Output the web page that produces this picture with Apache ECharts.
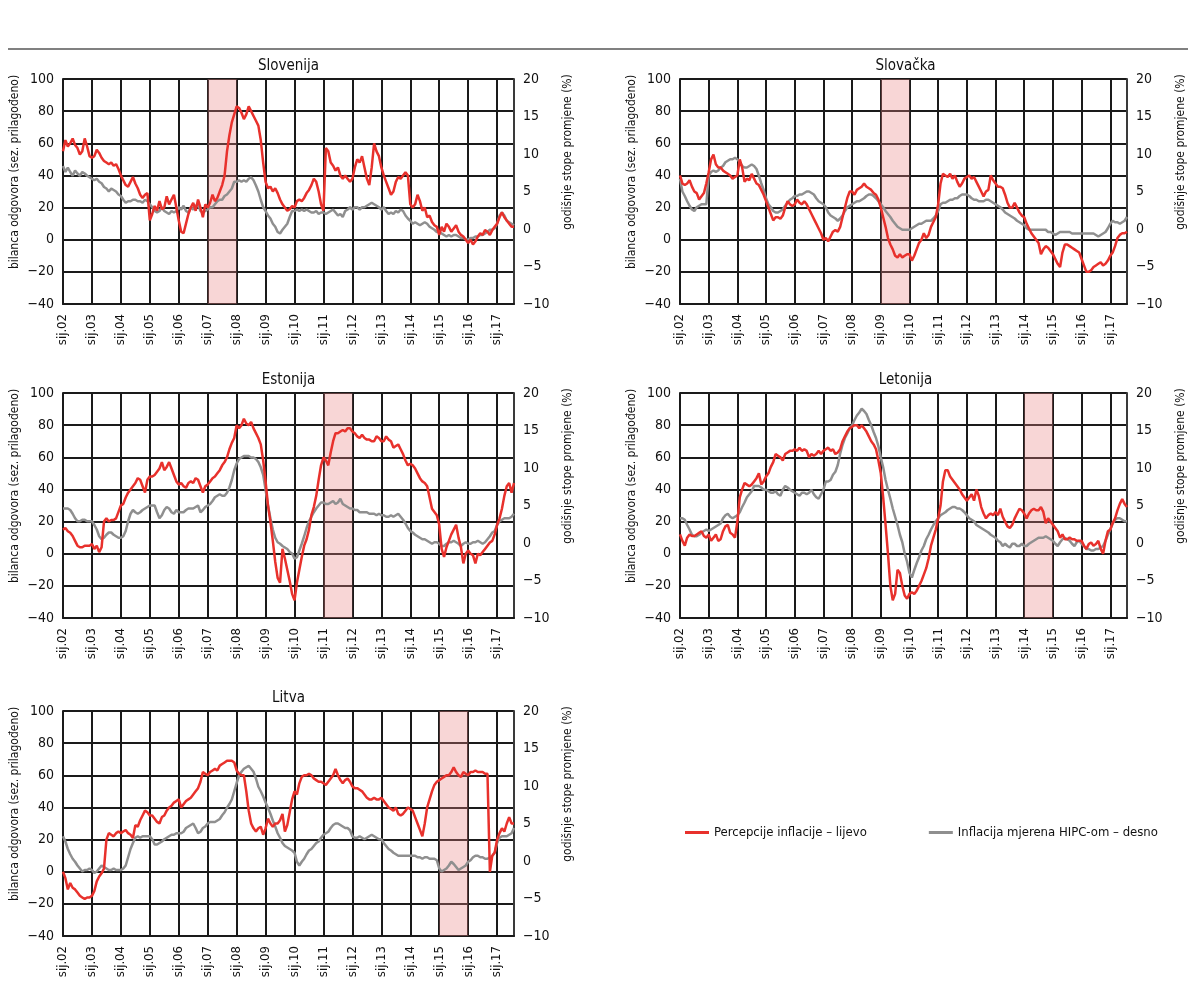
<!DOCTYPE html>
<html>
<head>
<meta charset="utf-8">
<title>Percepcije inflacije i HIPC</title>
<script src="https://cdn.jsdelivr.net/npm/echarts@6/dist/echarts.min.js"></script>
<style>
  html, body { margin: 0; padding: 0; background: #fff; }
  #chart { width: 1188px; height: 1003px; }
</style>
</head>
<body>
<div id="chart"></div>
<script>
// mjeseci i godine (sij.02 ... kol.17)
const monthNames = ["sij", "velj", "ožu", "tra", "svi", "lip", "srp", "kol", "ruj", "lis", "stu", "pro"];
const yearLabels = ["02", "03", "04", "05", "06", "07", "08", "09", "10", "11", "12", "13", "14", "15", "16", "17"];

const leftTicks = { min: -40, max: 100, step: 20 };
const rightTicks = { min: -10, max: 20, step: 5 };

const perceptionName = "Percepcije inflacije – lijevo";
const hicpName = "Inflacija mjerena HIPC-om – desno";

// Slovenija
const siPerception = [
  55, 62, 58, 60, 63, 59, 57, 53, 55, 63, 58, 52,
  51, 52, 56, 54, 51, 49, 48, 47, 48, 46, 47, 44,
  40, 37, 34, 33, 36, 39, 35, 32, 28, 26, 28, 29,
  12, 16, 21, 18, 24, 19, 20, 27, 22, 25, 28, 20,
  12, 5, 4, 10, 16, 20, 23, 18, 25, 20, 14, 22,
  20, 23, 28, 24, 26, 30, 34, 40, 55, 65, 73, 78,
  83, 82, 79, 75, 78, 83, 80, 77, 74, 71, 62, 48,
  36, 32, 33, 30, 32, 29, 25, 22, 20, 18, 19, 21,
  20, 24, 25, 24, 26, 29, 31, 34, 38, 36, 30, 22,
  18, 57, 55, 48, 46, 43, 45, 40, 38, 40, 38, 36,
  38, 45, 50, 48, 52, 45, 38, 34, 45, 60, 55, 52,
  45, 40, 36, 32, 28, 30, 36, 39, 38, 40, 42, 40,
  22, 20, 22, 28, 24, 18, 20, 14, 15, 11, 9, 8,
  3, 8, 5, 10, 8, 5, 7, 9, 5, 3, 2, 0,
  -2, 0, -3, -1, 2, 4, 3, 6, 5, 3, 6, 8,
  10, 14, 17, 14, 12, 10, 8, 8,
];
const siHicp = [
  8.4, 7.6, 8.2, 7.6, 7.1, 7.8, 7.4, 7.1, 7.6, 7.4, 7.1, 6.9,
  6.7, 6.5, 6.7, 6.3, 6.1, 5.6, 5.4, 5.0, 5.4, 5.2, 5.0, 4.6,
  4.4, 3.9, 3.5, 3.7, 3.7, 3.9, 3.9, 3.7, 3.7, 3.5, 3.9, 3.7,
  3.3, 2.9, 2.4, 2.2, 2.4, 2.9, 2.4, 2.2, 2.0, 2.4, 2.2, 2.4,
  2.9, 2.6, 3.1, 2.4, 2.2, 2.9, 2.6, 3.1, 3.3, 2.4, 2.2, 2.4,
  2.6, 2.9, 2.9, 3.3, 3.7, 3.9, 3.9, 4.4, 4.6, 5.0, 5.4, 6.3,
  6.3, 6.5, 6.3, 6.5, 6.3, 6.7, 6.9, 6.5, 5.8, 5.0, 3.9, 2.9,
  2.4, 1.8, 1.4, 0.7, 0.3, -0.4, -0.6, -0.1, 0.3, 0.7, 1.6, 2.4,
  2.4, 2.6, 2.4, 2.6, 2.4, 2.6, 2.4, 2.2, 2.2, 2.4, 2.0, 2.2,
  2.2, 2.0, 2.2, 2.4, 2.6, 2.2, 1.8, 2.0, 1.6, 2.4, 2.6, 2.9,
  2.6, 2.9, 2.9, 2.6, 2.9, 2.9, 3.1, 3.3, 3.5, 3.3, 3.1, 2.9,
  2.6, 2.9, 2.4, 2.0, 2.2, 2.0, 2.4, 2.2, 2.6, 2.4, 1.8, 1.4,
  1.1, 0.7, 0.9, 0.7, 0.5, 0.7, 0.9, 0.7, 0.3, 0.1, -0.1, -0.4,
  -0.4, -0.6, -0.8, -1.0, -0.8, -1.0, -0.8, -0.8, -1.0, -1.2, -1.2, -1.4,
  -1.4, -1.2, -1.2, -1.0, -1.0, -0.8, -0.8, -0.6, -0.4, -0.1, -0.1, 0.1,
  0.7, 1.8, 2.2, 1.8, 1.1, 0.9, 0.7, 0.5,
];

// Slovačka
const skPerception = [
  40, 35, 34, 35, 37, 33, 30, 29, 25, 27, 29, 35,
  42, 50, 53, 47, 45, 45, 43, 42, 41, 40, 38, 39,
  40, 50, 45, 36, 38, 37, 41, 38, 35, 34, 31, 28,
  24, 20, 16, 12, 14, 14, 13, 15, 20, 24, 22, 21,
  22, 25, 23, 22, 24, 22, 19, 16, 13, 10, 7, 4,
  0, 1, -1, 2, 5, 6, 5, 8, 14, 20, 26, 30,
  30, 28, 31, 32, 33, 35, 33, 32, 31, 29, 28, 25,
  20, 14, 8, 1, -3, -6, -10, -11, -9, -11, -10, -9,
  -9, -13, -10, -6, -2, 0, 4, 1, 3, 8, 11, 14,
  22, 35, 41, 40, 39, 41, 38, 40, 36, 33, 35, 38,
  39, 40, 38, 39, 36, 33, 30, 27, 30, 31, 40, 37,
  35, 33, 33, 32, 28, 23, 20, 20, 23, 20, 17, 15,
  14, 10, 7, 4, 2, 0, -2, -9, -6, -4, -5, -7,
  -9, -12, -15, -17, -8, -3, -3, -4, -5, -6, -7, -8,
  -12, -16, -20, -20, -19, -17, -16, -15, -14, -16, -15, -13,
  -10, -8, -4, 1, 3, 4, 4, 5,
];
const skHicp = [
  6.7, 5.0, 4.4, 3.7, 3.1, 2.6, 2.4, 2.9, 3.1, 3.3, 3.3, 3.3,
  7.1, 7.6, 7.8, 7.6, 7.8, 8.2, 8.4, 8.9, 9.1, 9.3, 9.3, 9.5,
  9.3, 8.9, 8.4, 8.2, 8.2, 8.4, 8.6, 8.4, 8.0, 7.1, 6.1, 5.2,
  4.1, 3.3, 2.9, 2.4, 2.2, 2.2, 2.4, 2.6, 3.1, 3.5, 3.9, 4.1,
  4.4, 4.4, 4.6, 4.6, 4.8, 5.0, 5.0, 4.8, 4.6, 4.1, 3.7, 3.5,
  3.3, 2.9, 2.2, 1.8, 1.6, 1.4, 1.1, 1.4, 1.8, 2.4, 2.9, 3.1,
  3.3, 3.5, 3.7, 3.7, 3.9, 4.1, 4.4, 4.6, 4.6, 4.4, 4.1, 3.7,
  3.3, 2.9, 2.4, 2.0, 1.6, 1.1, 0.7, 0.3, 0.1, -0.1, -0.1, -0.1,
  -0.1, 0.1, 0.3, 0.5, 0.7, 0.7, 0.9, 1.1, 1.1, 1.1, 1.4, 1.8,
  2.4, 3.3, 3.5, 3.5, 3.7, 3.9, 3.9, 4.1, 4.1, 4.4, 4.6, 4.6,
  4.6, 4.4, 4.1, 3.9, 3.9, 3.7, 3.7, 3.7, 3.9, 3.9, 3.7, 3.5,
  3.3, 3.1, 2.9, 2.6, 2.2, 2.0, 1.8, 1.6, 1.4, 1.1, 0.9, 0.7,
  0.5, 0.1, -0.1, -0.1, -0.1, -0.1, -0.1, -0.1, -0.1, -0.1, -0.4, -0.4,
  -0.6, -0.8, -0.6, -0.4, -0.4, -0.4, -0.4, -0.4, -0.6, -0.6, -0.6, -0.6,
  -0.6, -0.6, -0.6, -0.6, -0.6, -0.6, -0.8, -1.0, -0.8, -0.6, -0.4, 0.1,
  0.7, 1.1, 0.9, 0.9, 0.7, 0.9, 1.1, 1.6,
];

// Estonija
const eePerception = [
  15, 16, 14, 13, 11, 8, 5, 4, 4, 5, 5, 5,
  6, 3, 5, 1, 4, 20, 22, 20, 21, 21, 22, 26,
  30, 31, 35, 38, 40, 42, 44, 47, 46, 42, 38, 46,
  48, 48, 49, 51, 53, 57, 52, 54, 57, 53, 49, 45,
  43, 44, 42, 41, 44, 45, 44, 47, 46, 42, 38, 42,
  43, 45, 47, 48, 50, 52, 55, 57, 60, 65, 69, 72,
  80, 78, 80, 84, 81, 80, 82, 78, 75, 72, 68, 58,
  45, 30, 20, 8, -5, -15, -18, 3, -3, -10, -17, -25,
  -29, -18, -10, -2, 5, 9, 15, 24, 29, 36, 46, 55,
  60, 58, 55, 63, 70, 75, 75, 76, 77, 76, 78, 78,
  76, 75, 73, 72, 74, 72, 71, 71, 70, 70, 73, 72,
  70, 70, 73, 71, 70, 66, 67, 68, 65, 62, 58, 55,
  56, 55, 53, 50, 47, 45, 44, 42, 35, 28, 26, 24,
  18, 3, -2, 4, 8, 12, 15, 18, 10, 4, -6, 0,
  2, 0, -1, -6, 0, -1, 1, 3, 5, 7, 8, 12,
  18, 22, 28, 36, 42, 44, 38, 44,
];
const eeHicp = [
  4.6, 4.6, 4.6, 4.4, 3.9, 3.3, 2.9, 2.9, 3.1, 3.1, 2.9, 2.9,
  2.9, 2.4, 1.8, 0.9, 0.5, 0.7, 1.1, 1.4, 1.4, 1.1, 0.9, 0.7,
  0.7, 0.9, 1.6, 2.9, 3.9, 4.4, 4.1, 3.9, 4.1, 4.4, 4.6, 4.8,
  5.0, 5.0, 5.0, 4.1, 3.3, 3.7, 4.4, 4.8, 4.6, 4.1, 3.9, 4.4,
  4.1, 4.1, 4.1, 4.4, 4.6, 4.6, 4.6, 4.8, 5.0, 4.1, 4.4, 4.8,
  5.0, 5.2, 5.6, 6.1, 6.3, 6.5, 6.3, 6.3, 6.7, 7.4, 8.4, 9.7,
  10.6, 11.2, 11.4, 11.6, 11.6, 11.6, 11.4, 11.4, 11.2, 10.8, 10.1, 9.1,
  7.1, 5.0, 3.3, 1.8, 0.7, 0.1, -0.1, -0.4, -0.6, -0.8, -1.2, -1.4,
  -2.1, -1.9, -1.0, -0.1, 0.9, 2.0, 2.9, 3.5, 4.1, 4.6, 5.0, 5.4,
  5.4, 5.2, 5.2, 5.4, 5.6, 5.2, 5.4, 5.9, 5.2, 5.0, 4.8, 4.6,
  4.6, 4.4, 4.4, 4.1, 4.1, 4.1, 4.1, 3.9, 3.9, 3.9, 3.7, 3.9,
  3.7, 3.7, 3.5, 3.5, 3.7, 3.5, 3.7, 3.9, 3.5, 3.1, 2.6, 2.0,
  1.6, 1.4, 1.1, 0.9, 0.7, 0.5, 0.5, 0.3, 0.1, -0.1, 0.1, 0.1,
  -0.1, -0.4, -0.4, -0.1, 0.1, 0.1, 0.3, 0.1, -0.1, -0.4, -0.1, 0.1,
  -0.1, -0.1, 0.1, 0.1, 0.3, 0.1, -0.1, 0.1, 0.5, 0.9, 1.4, 1.6,
  2.4, 2.9, 3.1, 3.3, 3.3, 3.3, 3.5, 3.9,
];

// Letonija
const lvPerception = [
  12, 8, 5, 10, 12, 11, 11, 12, 13, 14, 11, 10,
  12, 8, 10, 12, 8, 9, 14, 17, 18, 13, 12, 10,
  20, 35, 40, 44, 43, 42, 43, 45, 47, 50, 43, 45,
  48, 50, 54, 57, 62, 61, 60, 58, 62, 63, 64, 64,
  65, 64, 66, 64, 65, 64, 60, 62, 61, 62, 64, 62,
  64, 65, 66, 64, 65, 62, 63, 65, 70, 73, 76, 78,
  79, 80, 80, 78, 80, 78, 76, 73, 70, 68, 65, 58,
  50, 35, 18, 0, -20, -29, -25, -10, -12, -20, -26, -28,
  -25, -24, -25, -23, -20, -17, -13, -9, -3, 5, 10, 15,
  22, 30, 45, 52, 52, 48, 46, 44, 42, 40, 37, 35,
  33, 35, 37, 33, 40, 36, 29, 25, 22, 24, 25, 24,
  26, 24, 28, 23, 20, 17, 16, 18, 22, 25, 28, 27,
  25, 22, 25, 27, 28, 27, 27, 29, 26, 19, 22, 20,
  18, 16, 14, 10, 12, 9, 9, 10, 9, 9, 8, 8,
  8, 5, 3, 6, 7, 5, 6, 8, 3, 0, 8, 14,
  15, 19, 22, 27, 31, 34, 31, 29,
];
const lvHicp = [
  3.3, 3.3, 3.1, 2.4, 1.8, 1.1, 0.9, 0.9, 1.1, 1.4, 1.6, 1.8,
  1.6, 1.8, 2.0, 2.2, 2.4, 2.6, 3.3, 3.7, 3.9, 3.5, 3.3, 3.5,
  3.7, 4.1, 4.8, 5.4, 6.1, 6.5, 6.9, 7.6, 7.6, 7.6, 7.4, 7.1,
  7.1, 6.9, 6.7, 6.7, 6.9, 6.5, 6.3, 7.1, 7.6, 7.4, 7.1, 6.9,
  6.7, 6.5, 6.3, 6.7, 6.7, 6.5, 6.7, 7.1, 6.5, 6.1, 5.9, 6.5,
  7.1, 8.2, 8.2, 8.4, 9.1, 9.5, 10.4, 11.9, 13.1, 14.0, 14.6, 15.3,
  15.7, 16.4, 17.0, 17.4, 17.9, 17.6, 17.2, 16.4, 15.7, 14.8, 14.0, 12.9,
  11.4, 10.1, 8.4, 7.1, 5.9, 4.6, 3.5, 2.4, 1.1, 0.1, -1.4, -2.5,
  -4.0, -4.6, -3.6, -2.7, -1.9, -1.0, -0.4, 0.5, 1.1, 1.8, 2.4, 2.9,
  3.3, 3.7, 3.9, 4.1, 4.4, 4.6, 4.8, 4.8, 4.6, 4.6, 4.4, 4.1,
  3.7, 3.3, 3.1, 2.9, 2.4, 2.2, 2.0, 1.8, 1.6, 1.4, 1.1, 0.9,
  0.7, 0.3, 0.1, -0.4, -0.1, -0.4, -0.6, -0.1, -0.1, -0.4, -0.4, -0.1,
  -0.4, -0.4, -0.1, 0.1, 0.3, 0.5, 0.7, 0.7, 0.7, 0.9, 0.7, 0.5,
  0.3, -0.1, -0.4, 0.1, 0.5, 0.7, 0.5, 0.3, -0.1, -0.4, 0.1, 0.3,
  -0.1, -0.4, -0.8, -0.8, -1.0, -1.0, -0.8, -0.8, -0.6, -0.4, 0.3, 1.1,
  1.8, 2.6, 3.1, 3.3, 3.3, 3.1, 2.9, 2.9,
];

// Litva
const ltPerception = [
  0, -4, -11, -7, -10, -11, -13, -15, -16, -17, -16, -16,
  -15, -12, -6, -3, -1, 2, 20, 24, 23, 22, 24, 25,
  24, 25, 26, 24, 23, 21, 29, 28, 32, 35, 38, 37,
  35, 35, 33, 31, 30, 34, 35, 38, 40, 41, 43, 44,
  45, 40, 42, 44, 45, 46, 48, 50, 52, 56, 62, 61,
  60, 62, 63, 64, 63, 66, 67, 68, 69, 69, 69, 68,
  63, 61, 60, 60, 50, 38, 30, 27, 25, 27, 28, 23,
  27, 33, 30, 28, 30, 30, 32, 36, 25, 29, 37, 45,
  50, 48, 55, 59, 60, 60, 61, 60, 58, 57, 56, 56,
  55, 54, 56, 58, 60, 64, 60, 57, 55, 57, 58, 56,
  53, 52, 52, 51, 50, 48, 46, 45, 45, 46, 45, 45,
  46, 44, 42, 40, 39, 38, 40, 36, 35, 36, 38, 40,
  39, 38, 34, 30, 26, 22, 30, 40, 45, 50, 54, 56,
  57, 58, 59, 60, 60, 62, 65, 62, 60, 59, 62, 61,
  60, 62, 62, 63, 62, 62, 62, 61, 61, 0, 10, 12,
  20, 24, 27, 25, 30, 34, 30, 30,
];
const ltHicp = [
  3.3, 2.6, 1.6, 0.9, 0.3, -0.1, -0.6, -1.0, -1.4, -1.2, -1.2, -1.0,
  -1.2, -1.6, -1.4, -1.0, -0.6, -0.8, -1.0, -1.2, -1.2, -1.0, -1.2, -1.2,
  -1.2, -1.0, -0.6, 0.5, 1.6, 2.4, 3.1, 3.3, 3.1, 3.3, 3.3, 3.3,
  3.3, 2.9, 2.2, 2.2, 2.4, 2.6, 2.9, 3.1, 3.3, 3.5, 3.5, 3.7,
  3.7, 3.7, 3.9, 4.4, 4.6, 4.8, 5.0, 4.4, 3.7, 3.9, 4.4, 4.6,
  5.0, 5.2, 5.2, 5.2, 5.4, 5.6, 6.1, 6.5, 7.1, 7.6, 8.2, 9.3,
  10.4, 11.4, 11.9, 12.3, 12.5, 12.7, 12.3, 11.9, 11.0, 9.9, 9.3, 8.6,
  7.8, 7.1, 6.3, 5.4, 4.6, 3.7, 3.1, 2.4, 2.0, 1.8, 1.6, 1.4,
  1.1, -0.1, -0.6, -0.1, 0.3, 0.9, 1.4, 1.6, 2.0, 2.4, 2.6, 3.1,
  3.5, 3.7, 3.9, 4.4, 4.8, 5.0, 5.0, 4.8, 4.6, 4.4, 4.4, 4.1,
  3.3, 3.1, 3.1, 3.3, 3.1, 2.9, 3.1, 3.3, 3.5, 3.3, 3.1, 2.9,
  2.9, 2.4, 2.0, 1.6, 1.4, 1.1, 0.9, 0.7, 0.7, 0.7, 0.7, 0.7,
  0.7, 0.7, 0.7, 0.5, 0.5, 0.3, 0.5, 0.5, 0.3, 0.3, 0.3, 0.1,
  -1.0, -1.4, -1.2, -1.0, -0.6, -0.1, -0.4, -0.8, -1.2, -1.0, -0.8, -0.6,
  -0.1, 0.1, 0.5, 0.7, 0.7, 0.5, 0.5, 0.3, 0.3, 0.5, 0.7, 1.1,
  2.4, 3.1, 3.3, 3.3, 3.3, 3.5, 3.7, 4.4,
];

const categories = [];
yearLabels.forEach((y) => {
  monthNames.forEach((m) => {
    if (categories.length < siPerception.length) categories.push(m + "." + y);
  });
});

const FONT = '"Liberation Sans Narrow", "DejaVu Sans Condensed", "Arial Narrow", sans-serif';
const TEXT = "#111";
const GRID_LINE = "#1a1a1a";

const panels = [
  { title: "Slovenija", perception: siPerception, hicp: siHicp, euro: "07", left: 63, top: 79 },
  { title: "Slovačka", perception: skPerception, hicp: skHicp, euro: "09", left: 680, top: 79 },
  { title: "Estonija", perception: eePerception, hicp: eeHicp, euro: "11", left: 63, top: 393 },
  { title: "Letonija", perception: lvPerception, hicp: lvHicp, euro: "14", left: 680, top: 393 },
  { title: "Litva", perception: ltPerception, hicp: ltHicp, euro: "15", left: 63, top: 711 },
];
const PW = 451;
const PH = 225;

const minus = (v) => String(v).replace("-", "\u2212");
const yearStart = (i) => i % 12 === 0;

const grid = [];
const xAxis = [];
const yAxis = [];
const series = [];
const graphic = [
  {
    type: "line",
    shape: { x1: 8, y1: 49, x2: 1188, y2: 49 },
    style: { stroke: "#808080", lineWidth: 2 },
  },
];

panels.forEach((p, k) => {
  grid.push({ left: p.left, top: p.top, width: PW, height: PH });
  graphic.push({
    type: "text",
    x: p.left + PW / 2,
    y: p.top - 13,
    style: {
      text: p.title,
      align: "center",
      verticalAlign: "middle",
      fontFamily: FONT,
      fontSize: 15,
      fill: TEXT,
    },
  });

  xAxis.push({
    type: "category",
    gridIndex: k,
    data: categories,
    boundaryGap: false,
    axisTick: { show: false },
    axisLine: { onZero: false, lineStyle: { color: GRID_LINE, width: 2 } },
    axisLabel: {
      interval: yearStart,
      rotate: 90,
      margin: 10,
      fontFamily: FONT,
      fontSize: 13,
      color: TEXT,
    },
    splitLine: {
      show: true,
      interval: yearStart,
      lineStyle: { color: GRID_LINE, width: 2 },
    },
  });

  yAxis.push({
    type: "value",
    gridIndex: k,
    min: leftTicks.min,
    max: leftTicks.max,
    interval: leftTicks.step,
    name: "bilanca odgovora (sez. prilagođeno)",
    nameLocation: "middle",
    nameGap: 42,
    nameRotate: 90,
    nameTextStyle: { fontFamily: FONT, fontSize: 12, color: TEXT, padding: [0, 0, 0, 39] },
    axisTick: { show: false },
    axisLine: { show: true, lineStyle: { color: GRID_LINE, width: 2 } },
    axisLabel: { margin: 9, fontFamily: FONT, fontSize: 14, color: TEXT, formatter: minus },
    splitLine: { show: true, lineStyle: { color: GRID_LINE, width: 2 } },
  });
  yAxis.push({
    type: "value",
    gridIndex: k,
    position: "right",
    min: rightTicks.min,
    max: rightTicks.max,
    interval: rightTicks.step,
    name: "godišnje stope promjene (%)",
    nameLocation: "middle",
    nameGap: 48,
    nameRotate: 90,
    nameTextStyle: { fontFamily: FONT, fontSize: 12, color: TEXT, padding: [0, 0, 0, 79] },
    axisTick: { show: false },
    axisLine: { show: true, lineStyle: { color: "#3a3a3a", width: 2 } },
    axisLabel: { margin: 9, fontFamily: FONT, fontSize: 14, color: TEXT, formatter: minus },
    splitLine: { show: false },
  });

  series.push({
    name: hicpName,
    type: "line",
    xAxisIndex: k,
    yAxisIndex: 2 * k + 1,
    data: p.hicp,
    symbol: "none",
    lineStyle: { color: "#8f8f8f", width: 2.5 },
    itemStyle: { color: "#8f8f8f" },
  });
  series.push({
    name: perceptionName,
    type: "line",
    xAxisIndex: k,
    yAxisIndex: 2 * k,
    data: p.perception,
    symbol: "none",
    lineStyle: { color: "#e8312c", width: 2.5 },
    itemStyle: { color: "#e8312c" },
    z: 3,
    markArea: {
      silent: true,
      itemStyle: { color: "rgba(235, 132, 132, 0.33)" },
      data: [[{ xAxis: "sij." + p.euro }, { xAxis: "sij." + String(+p.euro + 1).padStart(2, "0") }]],
    },
  });
});

const chart = echarts.init(document.getElementById("chart"));
chart.setOption({
  animation: false,
  backgroundColor: "#fff",
  textStyle: { fontFamily: FONT },
  grid: grid,
  xAxis: xAxis,
  yAxis: yAxis,
  graphic: graphic,
  legend: {
    data: [perceptionName, hicpName],
    left: 680,
    top: 821,
    icon: "rect",
    itemWidth: 24,
    itemHeight: 3,
    itemGap: 62,
    textStyle: { fontFamily: FONT, fontSize: 13, color: TEXT },
  },
  series: series,
});
</script>
</body>
</html>
